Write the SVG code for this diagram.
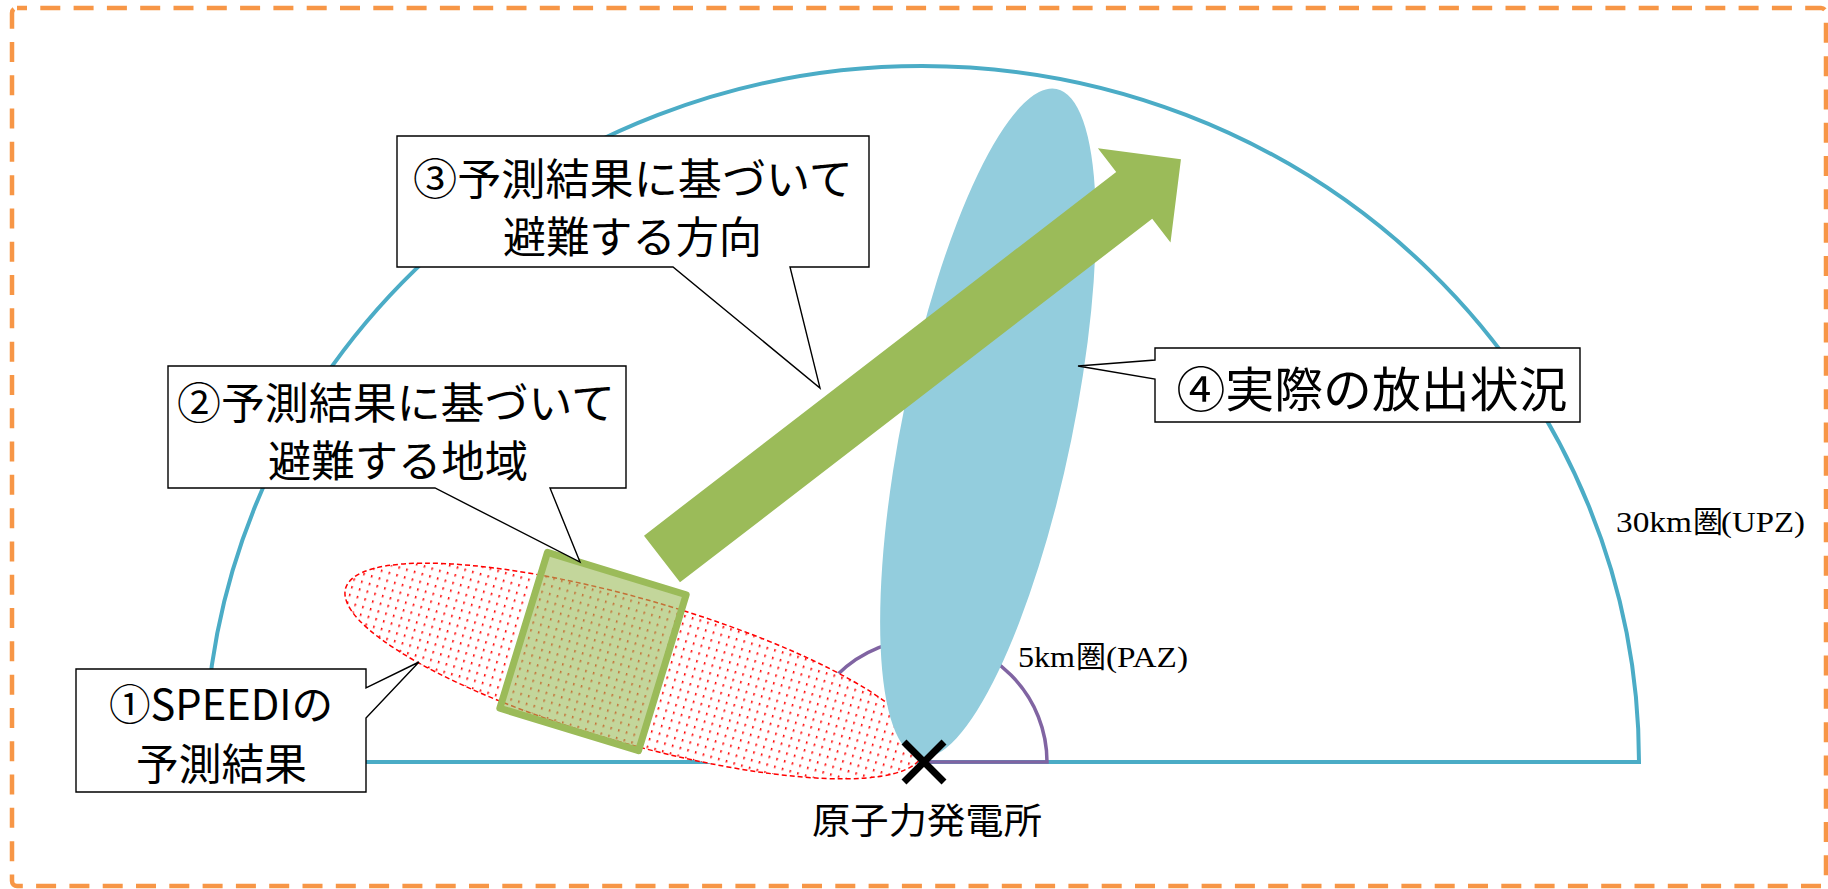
<svg xmlns="http://www.w3.org/2000/svg" width="1828" height="889" viewBox="0 0 1828 889">
<style>
.co{fill:#fff;stroke:#000;stroke-width:1.4;stroke-linejoin:miter}
.ct{font-family:"Noto Sans CJK JP",sans-serif;fill:#000;text-anchor:middle}
.lbl{font-family:"Liberation Serif","Noto Sans CJK JP",serif;font-size:30px;fill:#000}
</style>
<defs>
<pattern id="dots" width="8" height="8" patternUnits="userSpaceOnUse">
<rect width="8" height="8" fill="#fff"/>
<rect x="3" y="3" width="1.5" height="2.5" fill="#f00"/>
</pattern>
</defs>
<rect id="frame" x="12" y="8" width="1814" height="878" rx="5" fill="none" stroke="#F79646" stroke-width="4.5" stroke-dasharray="20 13.3" stroke-dashoffset="10"/>
<g id="zone30">
<path d="M205,762 A717,696 0 0 1 1639,762 Z" fill="none" stroke="#4BACC6" stroke-width="4" stroke-linejoin="miter"/>
</g>
<g id="zone5">
<path d="M801,762 A123,123 0 0 1 1047,762 L924,762" fill="none" stroke="#8064A2" stroke-width="3.5"/>
</g>
<g id="speedi-plume">
<ellipse cx="634" cy="671" rx="300" ry="72" transform="rotate(16 634 671)" fill="url(#dots)" stroke="#f00" stroke-width="1.5" stroke-dasharray="5 3"/>
</g>
<g id="evac-area">
<rect x="-72.5" y="-81.5" width="145" height="163" transform="translate(593,651.5) rotate(17)" fill="#9BBB59" fill-opacity="0.6" stroke="#9BBB59" stroke-width="7" stroke-linejoin="round"/>
</g>
<g id="actual-plume">
<ellipse cx="988" cy="423" rx="85" ry="341" transform="rotate(11.6 988 423)" fill="#93CDDD"/>
</g>
<g id="evac-arrow">
<polygon points="0,-29.5 596,-29.5 596,-59.5 655,0 596,59.5 596,29.5 0,29.5" transform="translate(662,559) rotate(-37.6)" fill="#9BBB59"/>
</g>
<g id="plant">
<path d="M904,742 L944,782 M944,742 L904,782" stroke="#000" stroke-width="7"/>
<text class="ct" x="927" y="834" font-size="36" textLength="230" lengthAdjust="spacingAndGlyphs">原子力発電所</text>
</g>
<g id="connectors">
</g>
<g id="callout1">
<path class="co" d="M76,669 H366 V688 L419,662 L366,718 V792 H76 Z"/>
<text class="ct" x="221" y="720" font-size="42" textLength="224" lengthAdjust="spacingAndGlyphs">①SPEEDIの</text>
<text class="ct" x="221.5" y="780" font-size="43" textLength="171" lengthAdjust="spacingAndGlyphs">予測結果</text>
</g>
<g id="callout2">
<path class="co" d="M168,366 H626 V488 H550 L580,562 L435,488 H168 Z"/>
<text class="ct" x="396" y="419" font-size="43" textLength="438" lengthAdjust="spacingAndGlyphs">②予測結果に基づいて</text>
<text class="ct" x="398" y="477" font-size="43" textLength="260" lengthAdjust="spacingAndGlyphs">避難する地域</text>
</g>
<g id="callout3">
<path class="co" d="M397,136 H869 V267 H790 L820,388 L673,267 H397 Z"/>
<text class="ct" x="633" y="195" font-size="43" textLength="440" lengthAdjust="spacingAndGlyphs">③予測結果に基づいて</text>
<text class="ct" x="632.5" y="253" font-size="43" textLength="259" lengthAdjust="spacingAndGlyphs">避難する方向</text>
</g>
<g id="callout4">
<path class="co" d="M1155,348 H1580 V422 H1155 V379 L1078,366 L1155,360 Z"/>
<text class="ct" x="1372" y="407" font-size="48" textLength="391" lengthAdjust="spacingAndGlyphs">④実際の放出状況</text>
</g>
<g id="labels">
<text class="lbl" y="667"><tspan x="1018" textLength="57" lengthAdjust="spacingAndGlyphs">5km</tspan><tspan x="1076">圏</tspan><tspan x="1106" textLength="82" lengthAdjust="spacingAndGlyphs">(PAZ)</tspan></text>
<text class="lbl" y="532"><tspan x="1616" textLength="76" lengthAdjust="spacingAndGlyphs">30km</tspan><tspan x="1693">圏</tspan><tspan x="1721" textLength="84" lengthAdjust="spacingAndGlyphs">(UPZ)</tspan></text>
</g>
</svg>
